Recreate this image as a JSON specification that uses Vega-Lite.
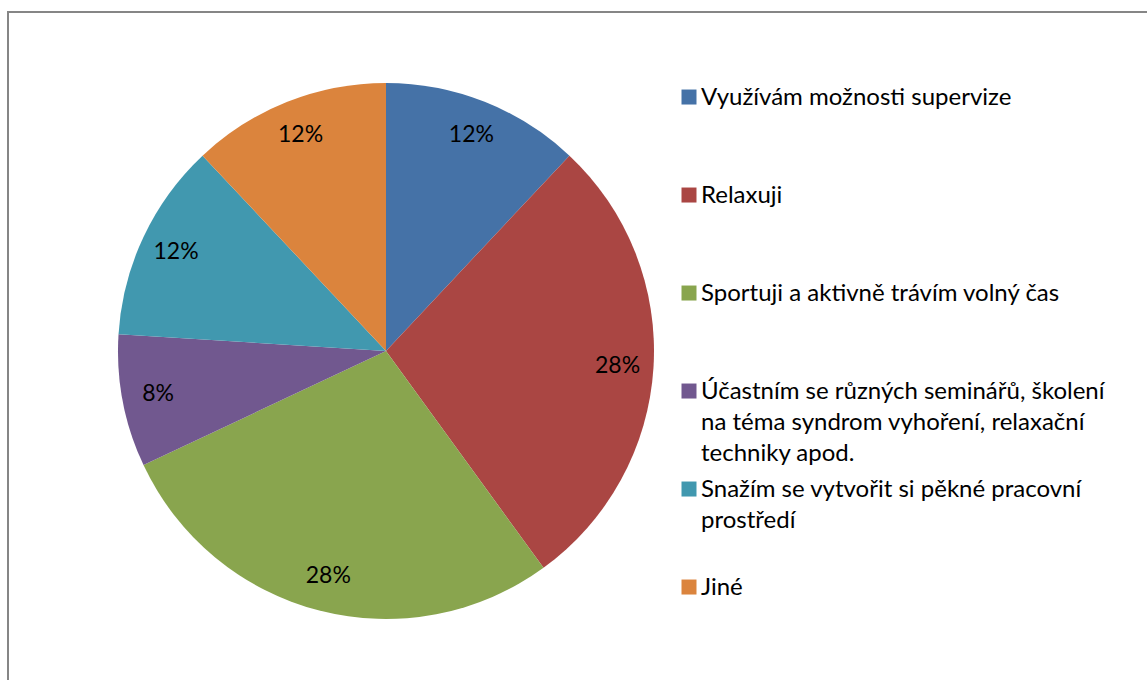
{
  "$schema": "https://vega.github.io/schema/vega-lite/v6.json",
  "width": 1150,
  "height": 680,
  "autosize": {"type": "none"},
  "padding": {"left": 8, "top": 12, "right": 0, "bottom": 0},
  "background": "white",
  "view": {"stroke": "#868686", "strokeWidth": 2, "fill": "white"},
  "config": {
    "font": "Lato",
    "style": {"guide-label": {"lineHeight": 31}}
  },
  "data": {
    "values": [
      {"category": "Využívám možnosti supervize", "value": 12, "label": "12%", "order": 1},
      {"category": "Relaxuji", "value": 28, "label": "28%", "order": 2},
      {"category": "Sportuji a aktivně trávím volný čas", "value": 28, "label": "28%", "order": 3},
      {"category": "Účastním se různých seminářů, školení|na téma syndrom vyhoření, relaxační|techniky apod.", "value": 8, "label": "8%", "order": 4},
      {"category": "Snažím se vytvořit si pěkné pracovní|prostředí", "value": 12, "label": "12%", "order": 5},
      {"category": "Jiné", "value": 12, "label": "12%", "order": 6}
    ]
  },
  "encoding": {
    "theta": {"field": "value", "type": "quantitative", "stack": true},
    "order": {"field": "order", "type": "quantitative"}
  },
  "layer": [
    {
      "mark": {"type": "arc", "x": 378, "y": 339, "radius": 268},
      "encoding": {
        "color": {
          "field": "category",
          "type": "nominal",
          "sort": null,
          "scale": {
            "domain": [
              "Využívám možnosti supervize",
              "Relaxuji",
              "Sportuji a aktivně trávím volný čas",
              "Účastním se různých seminářů, školení|na téma syndrom vyhoření, relaxační|techniky apod.",
              "Snažím se vytvořit si pěkné pracovní|prostředí",
              "Jiné"
            ],
            "range": ["#4572A7", "#AA4643", "#89A54E", "#71588F", "#4198AF", "#DB843D"]
          },
          "legend": {
            "title": null,
            "orient": "none",
            "legendX": 669,
            "legendY": 62,
            "padding": 0,
            "symbolType": "M-1,0.47 H1 V2.47 H-1 Z",
            "symbolSize": 225,
            "symbolStrokeWidth": 0,
            "symbolOpacity": 1,
            "labelFont": "Lato",
            "labelFontSize": 24,
            "labelColor": "#000000",
            "labelLimit": 600,
            "labelOffset": 0,
            "labelExpr": "split(datum.label, '|')",
            "labelBaseline": "top",
            "rowPadding": 0,
            "gridAlign": "all"
          }
        }
      }
    },
    {
      "mark": {"type": "text", "x": 378, "y": 339, "radius": 232, "fontSize": 23, "font": "Lato", "color": "#000000"},
      "encoding": {
        "text": {"field": "label", "type": "nominal"}
      }
    }
  ]
}
